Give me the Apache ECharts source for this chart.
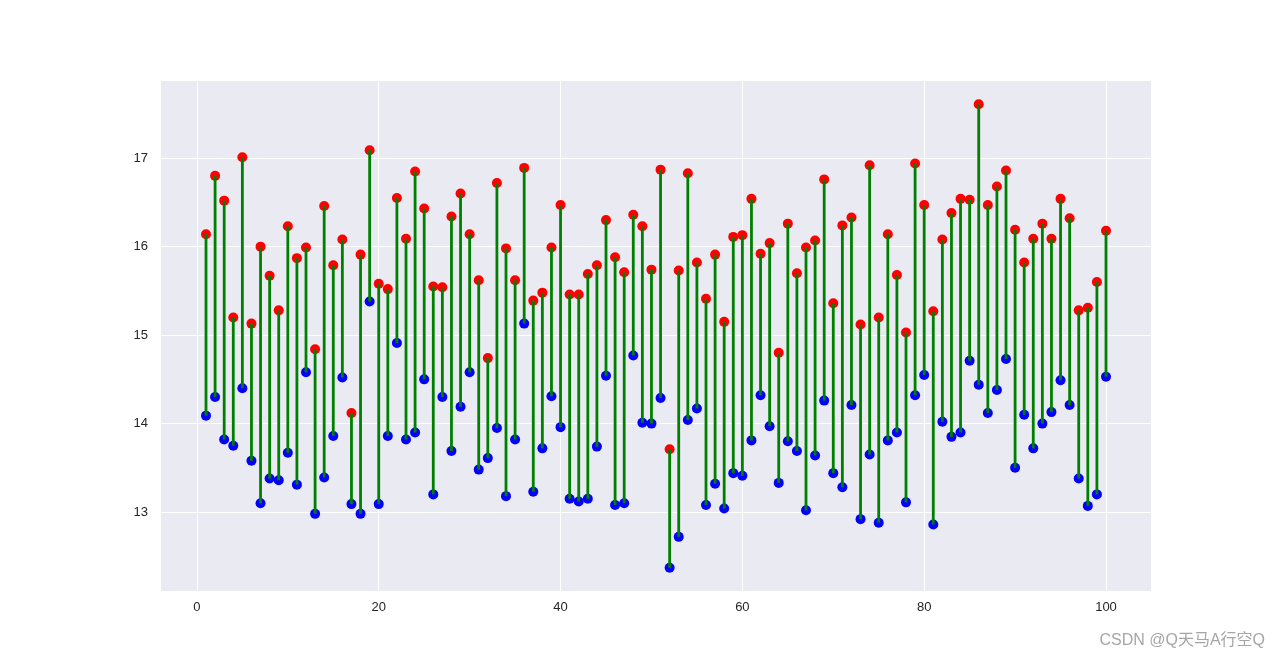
<!DOCTYPE html>
<html>
<head>
<meta charset="utf-8">
<script src="https://cdn.jsdelivr.net/npm/echarts@6/dist/echarts.min.js"></script>
<style>
html,body{margin:0;padding:0;background:#fff;}
#chart{width:1280px;height:664px;}
</style>
</head>
<body>
<div id="chart"></div>
<script>
const highs = [
16.14,16.80,16.52,15.20,17.01,15.13,16.00,15.67,15.28,16.23,
15.87,15.99,14.84,16.46,15.79,16.08,14.12,15.91,17.09,15.58,
15.52,16.55,16.09,16.85,16.43,15.55,15.54,16.34,16.60,16.14,
15.62,14.74,16.72,15.98,15.62,16.89,15.39,15.48,15.99,16.47,
15.46,15.46,15.69,15.79,16.30,15.88,15.71,16.36,16.23,15.74,
16.87,13.71,15.73,16.83,15.82,15.41,15.91,15.15,16.11,16.13,
16.54,15.92,16.04,14.80,16.26,15.70,15.99,16.07,16.76,15.36,
16.24,16.33,15.12,16.92,15.20,16.14,15.68,15.03,16.94,16.47,
15.27,16.08,16.38,16.54,16.53,17.61,16.47,16.68,16.86,16.19,
15.82,16.09,16.26,16.09,16.54,16.32,15.28,15.31,15.60,16.18];
const lows = [
14.09,14.30,13.82,13.75,14.40,13.58,13.10,13.38,13.36,13.67,
13.31,14.58,12.98,13.39,13.86,14.52,13.09,12.98,15.38,13.09,
13.86,14.91,13.82,13.90,14.50,13.20,14.30,13.69,14.19,14.58,
13.48,13.61,13.95,13.18,13.82,15.13,13.23,13.72,14.31,13.96,
13.15,13.12,13.15,13.74,14.54,13.08,13.10,14.77,14.01,14.00,
14.29,12.37,12.72,14.04,14.17,13.08,13.32,13.04,13.44,13.41,
13.81,14.32,13.97,13.33,13.80,13.69,13.02,13.64,14.26,13.44,
13.28,14.21,12.92,13.65,12.88,13.81,13.90,13.11,14.32,14.55,
12.86,14.02,13.85,13.90,14.71,14.44,14.12,14.38,14.73,13.50,
14.10,13.72,14.00,14.13,14.49,14.21,13.38,13.07,13.20,14.53];
const xTicks = [0, 20, 40, 60, 80, 100];
const yTicks = [13, 14, 15, 16, 17];
const watermark = 'CSDN @Q天马A行空Q';

const highData = highs.map((v, i) => [i + 1, v]);
const lowData = lows.map((v, i) => [i + 1, v]);
const stemData = highs.map((v, i) => [i + 1, lows[i], v]);

const chart = echarts.init(document.getElementById('chart'), null, {renderer: 'canvas'});
const labelStyle = {color: '#262626', fontSize: 13, fontFamily: 'Liberation Sans, Arial, sans-serif'};
chart.setOption({
  animation: false,
  backgroundColor: '#ffffff',
  grid: {left: 161, right: 129, top: 81, bottom: 73, show: true, backgroundColor: '#EAEAF2', borderWidth: 0},
  xAxis: {
    type: 'value', min: -3.95, max: 104.95,
    axisLine: {show: false},
    axisTick: {show: false, customValues: xTicks},
    axisLabel: Object.assign({customValues: xTicks, margin: 10}, labelStyle),
    splitLine: {show: true, lineStyle: {color: '#ffffff', width: 1}}
  },
  yAxis: {
    type: 'value', min: 12.108, max: 17.872,
    axisLine: {show: false},
    axisTick: {show: false, customValues: yTicks},
    axisLabel: Object.assign({customValues: yTicks, margin: 13}, labelStyle),
    splitLine: {show: true, lineStyle: {color: '#ffffff', width: 1}}
  },
  series: [
    {type: 'scatter', data: highData, symbolSize: 10, itemStyle: {color: '#FF0000', opacity: 1}, z: 2},
    {type: 'scatter', data: lowData, symbolSize: 10, itemStyle: {color: '#0000FF', opacity: 1}, z: 2},
    {
      type: 'custom', z: 3, data: stemData,
      encode: {x: 0, y: [1, 2]},
      renderItem: function (params, api) {
        const p1 = api.coord([api.value(0), api.value(1)]);
        const p2 = api.coord([api.value(0), api.value(2)]);
        return {type: 'line', shape: {x1: p1[0], y1: p1[1], x2: p2[0], y2: p2[1]},
                style: {stroke: '#008000', lineWidth: 2.8}};
      }
    }
  ],
  graphic: [{
    type: 'text', right: 15, top: 633,
    style: {text: watermark, fill: '#A6A6A6', fontSize: 16, fontFamily: 'Liberation Sans, Noto Sans CJK SC, sans-serif'}
  }]
});
</script>
</body>
</html>
